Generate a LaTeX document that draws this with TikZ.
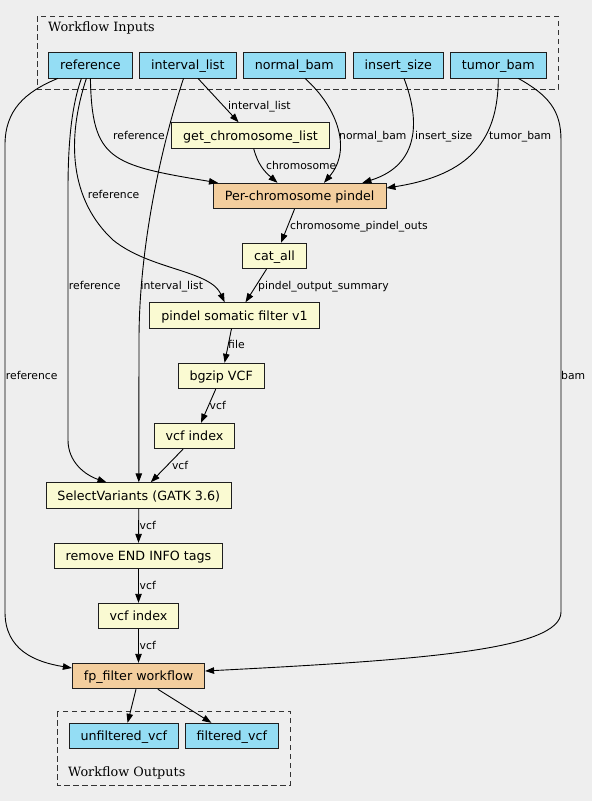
\documentclass[tikz,border=0pt]{standalone}
\usepackage{fontspec}
\setmainfont{DejaVu Sans}
\newfontfamily\clfont{DejaVu Serif}
\usetikzlibrary{arrows.meta}
\definecolor{bgc}{HTML}{EEEEEE}
\definecolor{inp}{HTML}{94DDF4}
\definecolor{stp}{HTML}{FAFAD2}
\definecolor{subw}{HTML}{F3CE9E}
\definecolor{bord}{HTML}{1E1E1E}
\definecolor{clus}{HTML}{333333}
\begin{document}
\begin{tikzpicture}[x=1pt,y=-1pt,
  box/.style={draw=bord, line width=0.9pt, minimum height=25.5pt, inner xsep=11.5pt, inner ysep=0pt,
    font=\fontsize{12.7}{14}\selectfont, text height=11pt, text depth=1.5pt},
  inbox/.style={box, fill=inp},
  stepbox/.style={box, fill=stp},
  subbox/.style={box, fill=subw},
  edge/.style={draw=black, line width=0.9pt, -{Triangle[length=9pt,width=6.5pt]}},
  lbl/.style={anchor=base west, inner sep=0pt, font=\fontsize{10.8}{12}\selectfont},
  cluster/.style={draw=clus, line width=1pt, dash pattern=on 5.5pt off 3.5pt},
  cllabel/.style={anchor=base west, inner sep=0pt, font=\clfont\fontsize{12.8}{14}\selectfont}
]
\useasboundingbox (0,0) rectangle (592,801);
\fill[bgc] (0,0) rectangle (592,801);

% clusters
\draw[cluster] (37,16) rectangle (558,89);
\node[cllabel] (inlabel) at (48,31.8) {Workflow Inputs};
\draw[cluster] (57,711) rectangle (290,785);
\node[cllabel] (outlabel) at (68,776.8) {Workflow Outputs};

% inputs
\node[inbox] (ref) at (90.4,65.2) {reference};
\node[inbox] (il) at (187.8,65.2) {interval\_list};
\node[inbox] (nb) at (294.3,65.2) {normal\_bam};
\node[inbox] (is) at (398.3,65.2) {insert\_size};
\node[inbox] (tb) at (498.3,65.2) {tumor\_bam};

% steps
\node[stepbox] (gcl) at (250.5,135.5) {get\_chromosome\_list};
\node[subbox] (pcp) at (299.7,196) {Per-chromosome pindel};
\node[stepbox] (cat) at (274.5,256) {cat\_all};
\node[stepbox] (psf) at (234.5,315.5) {pindel somatic filter v1};
\node[stepbox] (bgz) at (221.2,376) {bgzip VCF};
\node[stepbox] (vi1) at (194.5,436) {vcf index};
\node[stepbox] (sv) at (138.8,495.5) {SelectVariants (GATK 3.6)};
\node[stepbox] (rem) at (138.5,556) {remove END INFO tags};
\node[stepbox] (vi2) at (138.5,616) {vcf index};
\node[subbox] (fpf) at (138.5,676) {fp\_filter workflow};

% outputs
\node[inbox] (unf) at (123.8,736) {unfiltered\_vcf};
\node[inbox] (fil) at (231.8,736) {filtered\_vcf};

% edges
\draw[edge] ([xshift=-32.6pt]ref.south) .. controls (25,92) and (5,110) .. (5,145) -- (5,612)
   .. controls (5,650) and (35,662) .. ([yshift=8pt]fpf.west);
\draw[edge] ([xshift=-9pt]ref.south) .. controls (72,105) and (68,140) .. (68,190) -- (68,440)
   .. controls (68,462) and (85,475) .. ([xshift=-32.3pt]sv.north);
\draw[edge] ([xshift=-4pt]ref.south) .. controls (66,140) and (70,200) .. (113,240)
   .. controls (150,270) and (210,270) .. ([xshift=-9.9pt]psf.north);
\draw[edge] (ref.south) .. controls (92,160) and (110,165) .. ([xshift=-81.7pt]pcp.north);
\draw[edge] ([xshift=-4.3pt]il.south) .. controls (160,150) and (139,250) .. (139,340) -- (sv.north);
\draw[edge] ([xshift=10.2pt]il.south) -- ([xshift=-11.9pt]gcl.north);
\draw[edge] ([xshift=10.7pt]nb.south) .. controls (338,108) and (352,150) .. ([xshift=24.3pt]pcp.north);
\draw[edge] ([xshift=5.7pt]is.south) .. controls (420,120) and (420,165) .. ([xshift=62.7pt]pcp.north);
\draw[edge] (tb.south) .. controls (498,140) and (470,175) .. ([yshift=8pt]pcp.east);
\draw[edge] ([xshift=20pt]tb.south) .. controls (548,95) and (561,110) .. (561,140) -- (561,612)
   .. controls (561,650) and (420,660) .. ([yshift=5pt]fpf.east);
\draw[edge] ([xshift=3.2pt]gcl.south) .. controls (258,165) and (265,172) .. ([xshift=-22.2pt]pcp.north);
\draw[edge] ([xshift=-5.2pt]pcp.south) -- ([xshift=6.5pt]cat.north);
\draw[edge] ([xshift=-8pt]cat.south) -- ([xshift=11pt]psf.north);
\draw[edge] ([xshift=-3pt]psf.south) -- ([xshift=3.4pt]bgz.north);
\draw[edge] ([xshift=-5.5pt]bgz.south) -- ([xshift=6.5pt]vi1.north);
\draw[edge] ([xshift=-11.5pt]vi1.south) -- ([xshift=12pt]sv.north);
\draw[edge] (sv.south) -- (rem.north);
\draw[edge] (rem.south) -- (vi2.north);
\draw[edge] (vi2.south) -- (fpf.north);
\draw[edge] ([xshift=-2.5pt]fpf.south) -- ([xshift=3.8pt]unf.north);
\draw[edge] ([xshift=19.3pt]fpf.south) -- ([xshift=-20.4pt]fil.north);

% edge labels
\node[lbl] (l1) at (5.7,379) {reference};
\node[lbl] (l2) at (68.7,289) {reference};
\node[lbl] (l3) at (87.6,198.5) {reference};
\node[lbl] (l4) at (113,139) {reference};
\node[lbl] (l5) at (140.4,289) {interval\_list};
\node[lbl] (l6) at (228,109) {interval\_list};
\node[lbl] (l7) at (339,139) {normal\_bam};
\node[lbl] (l8) at (415,139) {insert\_size};
\node[lbl] (l9) at (489,139) {tumor\_bam};
\node[lbl] (l10) at (561,379) {bam};
\node[lbl] (l11) at (266,169) {chromosome};
\node[lbl] (l12) at (290,229) {chromosome\_pindel\_outs};
\node[lbl] (l13) at (258,289) {pindel\_output\_summary};
\node[lbl] (l14) at (228,348) {file};
\node[lbl] (l15) at (209.5,409) {vcf};
\node[lbl] (l16) at (171.8,469) {vcf};
\node[lbl] (l17) at (139.5,529) {vcf};
\node[lbl] (l18) at (139.5,589) {vcf};
\node[lbl] (l19) at (139.5,649) {vcf};
\end{tikzpicture}
\end{document}
